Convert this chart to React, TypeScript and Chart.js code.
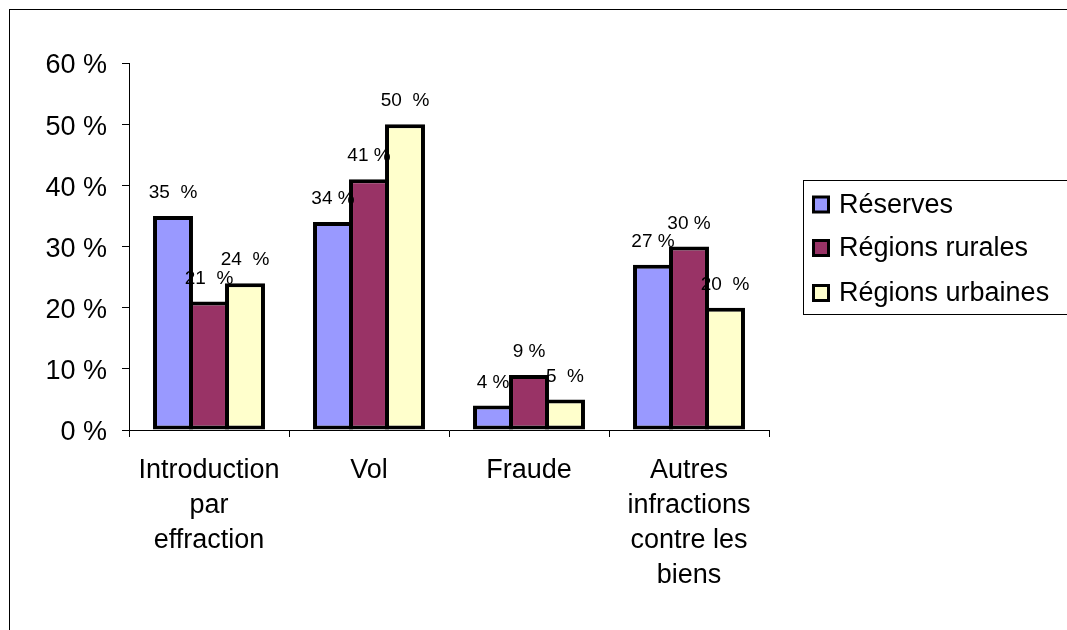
import React, { useEffect, useRef } from "react";
import { Chart, registerables } from "chart.js";

Chart.register(...registerables);

const categories: string[][] = [
  ["Introduction", "par", "effraction"],
  ["Vol"],
  ["Fraude"],
  ["Autres", "infractions", "contre les", "biens"],
];

const seriesNames = ["Réserves", "Régions rurales", "Régions urbaines"];
const reserves = [35, 34, 4, 27];
const rurales = [21, 41, 9, 30];
const urbaines = [24, 50, 5, 20];

const reservesLabels = ["35  %", "34 %", "4 %", "27 %"];
const ruralesLabels = ["21  %", "41 %", "9 %", "30 %"];
const urbainesLabels = ["24  %", "50  %", "5  %", "20  %"];

const yTicks = [0, 10, 20, 30, 40, 50, 60];

const FONT = '"Liberation Sans", Arial, sans-serif';

const colors = ["#9999FF", "#993366", "#FFFFCC"];

export default function App() {
  const ref = useRef<HTMLCanvasElement | null>(null);

  useEffect(() => {
    const canvas = ref.current;
    if (!canvas) return;
    const labelSets = [reservesLabels, ruralesLabels, urbainesLabels];

    const framePlugin = {
      id: "frame",
      beforeDraw(chart: any) {
        const ctx = chart.ctx;
        ctx.save();
        ctx.fillStyle = "#ffffff";
        ctx.fillRect(0, 0, chart.width, chart.height);
        ctx.strokeStyle = "#000000";
        ctx.lineWidth = 1;
        ctx.strokeRect(9.5, 9.5, chart.width + 20, chart.height + 20);
        ctx.restore();
      },
    };

    const valueLabels = {
      id: "valueLabels",
      afterDatasetsDraw(chart: any) {
        const ctx = chart.ctx;
        ctx.save();
        ctx.font = `19px ${FONT}`;
        ctx.fillStyle = "#000000";
        ctx.textAlign = "center";
        ctx.textBaseline = "middle";
        chart.data.datasets.forEach((ds: any, di: number) => {
          const meta = chart.getDatasetMeta(di);
          meta.data.forEach((el: any, i: number) => {
            ctx.fillText(labelSets[di][i], el.x, el.y - 23);
          });
        });
        ctx.restore();
      },
    };

    const legendPlugin = {
      id: "customLegend",
      afterDraw(chart: any) {
        const ctx = chart.ctx;
        ctx.save();
        ctx.strokeStyle = "#000000";
        ctx.lineWidth = 1;
        ctx.strokeRect(803.5, 180.5, 300, 134);
        ctx.font = `27px ${FONT}`;
        ctx.textAlign = "left";
        ctx.textBaseline = "middle";
        const rowsY = [204.5, 248, 293];
        chart.data.datasets.forEach((ds: any, i: number) => {
          const cy = rowsY[i];
          ctx.fillStyle = "#000000";
          ctx.fillRect(812, cy - 9, 18, 18);
          ctx.fillStyle = ds.backgroundColor;
          ctx.fillRect(815, cy - 6, 12, 12);
          ctx.fillStyle = "#000000";
          ctx.fillText(ds.label, 839, cy + 1);
        });
        ctx.restore();
      },
    };

    const chart = new Chart(canvas, {
      type: "bar",
      data: {
        labels: categories,
        datasets: [
          { label: seriesNames[0], data: reserves, backgroundColor: colors[0] },
          { label: seriesNames[1], data: rurales, backgroundColor: colors[1] },
          { label: seriesNames[2], data: urbaines, backgroundColor: colors[2] },
        ].map((d) => ({
          ...d,
          borderColor: "#000000",
          borderWidth: 4,
          borderSkipped: false,
          categoryPercentage: 0.675,
          barPercentage: 1.11,
        })),
      },
      options: {
        responsive: false,
        animation: false,
        layout: { padding: { left: 0, top: 63, right: 298, bottom: 0 } },
        plugins: {
          legend: { display: false },
          tooltip: { enabled: false },
          title: { display: false },
        },
        scales: {
          x: {
            offset: true,
            afterFit: (s: any) => {
              s.height = 200;
            },
            grid: {
              display: true,
              drawOnChartArea: false,
              drawTicks: true,
              tickLength: 7,
              color: "#000000",
              offset: true,
            },
            border: { display: true, color: "#000000", width: 1 },
            ticks: {
              color: "#000000",
              font: { family: FONT, size: 27, lineHeight: "35px" },
              padding: 16,
              maxRotation: 0,
              autoSkip: false,
            },
          },
          y: {
            min: 0,
            max: 60,
            afterFit: (s: any) => {
              s.width = 129;
            },
            afterBuildTicks: (s: any) => {
              s.ticks = yTicks.map((v) => ({ value: v }));
            },
            grid: {
              display: true,
              drawOnChartArea: false,
              drawTicks: true,
              tickLength: 7,
              color: "#000000",
            },
            border: { display: true, color: "#000000", width: 1 },
            ticks: {
              color: "#000000",
              font: { family: FONT, size: 27 },
              padding: 15,
              labelOffset: 3,
              callback: (v: any) => `${v} %`,
            },
          },
        },
      },
      plugins: [framePlugin, valueLabels, legendPlugin],
    });

    return () => chart.destroy();
  }, []);

  return (
    <div style={{ position: "absolute", left: 0, top: 0, width: 1067, height: 630 }}>
      <canvas ref={ref} width={1067} height={630} style={{ display: "block" }} />
    </div>
  );
}
